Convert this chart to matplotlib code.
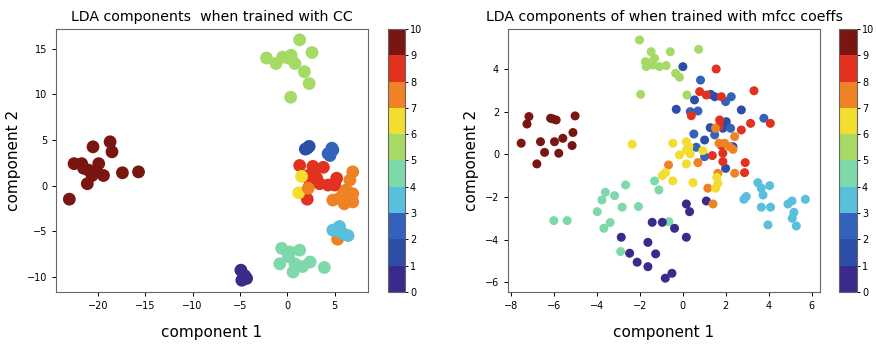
import numpy as np
import matplotlib
matplotlib.use("Agg")
import matplotlib.pyplot as plt
from matplotlib.colors import ListedColormap, BoundaryNorm

# class colours (0 .. 9)
class_colors = ['#3a2a8c', '#2d4ea8', '#3262bb', '#58bfdc', '#7dd9a9',
                '#a6da66', '#f2de2e', '#ef8224', '#e2321f', '#7a1612']

# ---- left panel: LDA on CC features ----
cc_x = {
    9: [-23.0, -20.5, -18.7, -18.5, -22.5, -21.7, -21.5, -21.0, -21.1, -19.9, -20.1, -19.4, -17.4, -15.7, -20.6],
    5: [1.3, 2.6, -2.2, -1.2, -0.5, 0.4, 0.8, 1.8, 2.3, 0.35, 0.1],
    1: [1.9, 2.3, 2.1],
    2: [4.3, 4.7, 4.5, 4.8],
    8: [1.3, 2.7, 3.8, 2.2, 3.1, 2.4, 3.4, 5.2, 5.0, 4.3, 2.1, 2.9],
    6: [1.2, 1.5],
    7: [6.9, 6.6, 6.2, 6.9, 4.8, 5.5, 6.0, 6.9, 5.9, 2.2, 5.3, 6.4],
    3: [5.5, 4.8, 6.4, 5.9, 5.2],
    4: [-0.6, 0.25, 1.3, -0.8, 0.8, 2.4, 0.6, 1.6, 3.9, 0.1],
    0: [-4.9, -4.5, -4.8, -4.3],
}
cc_y = {
    9: [-1.5, 4.25, 4.8, 3.7, 2.4, 2.4, 1.9, 1.7, 0.2, 2.4, 1.5, 1.1, 1.4, 1.5, 1.1],
    5: [16.0, 14.6, 14.0, 13.4, 14.1, 14.3, 13.4, 12.5, 11.2, 9.7, 14.0],
    1: [4.0, 4.3, 4.1],
    2: [3.5, 4.1, 3.3, 3.9],
    8: [2.2, 2.1, 2.0, 1.1, 0.8, 0.4, 0.2, 0.8, 0.05, 0.05, -1.5, 1.7],
    6: [-0.8, 1.0],
    7: [1.5, 0.6, -0.5, -0.9, -1.6, -1.4, -2.0, -1.8, -0.9, -0.3, -5.9, -1.2],
    3: [-4.5, -4.9, -5.5, -5.3, -4.9],
    4: [-6.9, -7.3, -7.1, -8.6, -8.6, -8.4, -9.5, -8.9, -9.0, -7.8],
    0: [-9.3, -9.9, -10.4, -10.2],
}

# ---- right panel: LDA on mfcc coeffs ----
mf_x = {
    9: [-7.53, -7.17, -7.26, -6.63, -6.80, -6.44, -6.16, -5.90, -5.98, -5.78, -5.59, -5.12, -5.16, -5.02, -6.06],
    5: [-2.02, -1.75, -1.71, -1.48, -1.32, -1.40, -1.09, -0.78, -0.59, -0.34, -0.16, 0.73, 0.19, -1.97, -1.63],
    4: [-6.01, -5.39, -3.99, -3.77, -3.61, -3.18, -3.39, -3.68, -2.83, -2.67, -2.07, -1.32, -1.12, -2.90, -0.65],
    0: [-2.87, -2.48, -2.13, -1.63, -1.63, -1.27, -1.43, -0.96, -0.39, -0.82, -0.51, 0.16, 0.16, 0.31, 1.09],
    1: [0.0, -0.31, 0.54, 1.29, 1.48, 2.72, 2.02, 1.86, 1.01, 1.99, 1.27, 2.33],
    2: [0.82, 0.34, 0.70, 1.99, 2.25, 1.48, 2.22, 0.51, 0.62, 3.77, 1.01],
    8: [1.55, 0.78, 1.79, 1.09, 3.31, 0.39, 1.71, 3.15, 4.07, 2.72, 1.79, 1.37, 1.86, 1.86, 2.90, 2.87, 1.68],
    7: [-0.67, 0.70, 1.52, 1.68, 1.94, 2.17, 2.41, 2.33, 2.41, 1.63, 1.16, 1.40],
    6: [-2.36, -0.47, 0.16, -0.16, 0.16, 0.28, 0.34, 0.16, -0.47, -0.81, -0.96, 0.47, 0.93, 1.52, 1.63, 1.58],
    3: [3.49, 3.65, 4.04, 3.73, 2.84, 2.95, 3.65, 4.08, 3.96, 4.89, 5.08, 5.17, 5.09, 5.28, 5.70],
}
mf_y = {
    9: [0.52, 1.77, 1.42, 0.59, -0.45, 0.09, 1.69, 1.61, 0.59, 0.05, 0.75, 1.02, 0.41, 1.80, 1.66],
    5: [5.36, 4.34, 4.11, 4.81, 4.50, 4.19, 4.11, 4.16, 4.81, 3.80, 3.61, 4.92, 2.78, 2.81, 4.30],
    4: [-3.11, -3.11, -2.69, -2.14, -1.78, -1.94, -3.20, -3.47, -2.48, -1.44, -2.45, -1.25, -1.67, -4.56, -3.16],
    0: [-3.89, -4.64, -5.06, -5.27, -4.13, -4.67, -3.19, -3.19, -3.47, -5.81, -5.58, -3.89, -2.33, -2.69, -2.19],
    1: [4.11, 2.11, 2.55, 2.81, 2.70, 2.08, 1.53, 1.22, 0.67, -0.66, 1.25, 0.36],
    2: [3.48, 2.00, 2.03, 2.47, 2.70, 0.91, 1.22, 0.95, 0.33, 1.69, -0.11],
    8: [4.00, 2.94, 2.70, 2.78, 2.98, 1.81, 1.61, 1.45, 1.45, 1.14, 0.41, -0.06, 0.05, -0.34, -0.39, -0.86, 1.30],
    7: [-0.50, -0.39, 1.22, 0.52, 0.52, 0.36, 0.83, 0.23, -0.89, -0.89, -1.59, -2.33],
    6: [0.47, 0.52, 0.59, -0.03, 0.20, 0.36, 0.02, -0.45, -1.25, -0.86, -1.00, -1.33, 0.17, -1.59, -1.36, -1.08],
    3: [-1.33, -1.59, -1.47, -1.91, -2.11, -1.98, -2.48, -2.48, -3.31, -2.33, -2.19, -2.72, -3.00, -3.36, -2.11],
}

cmap = ListedColormap(class_colors)
norm = BoundaryNorm(np.arange(11), cmap.N)


def flatten(xd, yd):
    xs, ys, cs = [], [], []
    for k in xd:
        xs += xd[k]
        ys += yd[k]
        cs += [k + 0.5] * len(xd[k])
    return np.array(xs), np.array(ys), np.array(cs)


fig = plt.figure(figsize=(8.76, 3.44), dpi=100)

ax1 = fig.add_axes([0.064, 0.151, 0.356, 0.765])
cax1 = fig.add_axes([0.443, 0.151, 0.0195, 0.765])
ax2 = fig.add_axes([0.580, 0.151, 0.356, 0.765])
cax2 = fig.add_axes([0.958, 0.151, 0.0205, 0.765])

x, y, c = flatten(cc_x, cc_y)
sc1 = ax1.scatter(x, y, c=c, cmap=cmap, norm=norm, s=85, linewidths=0)
ax1.set_xlim(-24.4, 8.5)
ax1.set_ylim(-11.7, 17.2)
ax1.set_xticks([-20, -15, -10, -5, 0, 5])
ax1.set_yticks([-10, -5, 0, 5, 10, 15])
ax1.set_title('LDA components  when trained with CC', fontsize=10.2, pad=6)

x, y, c = flatten(mf_x, mf_y)
sc2 = ax2.scatter(x, y, c=c, cmap=cmap, norm=norm, s=42, linewidths=0)
ax2.set_xlim(-8.14, 6.38)
ax2.set_ylim(-6.46, 5.88)
ax2.set_xticks([-8, -6, -4, -2, 0, 2, 4, 6])
ax2.set_yticks([-6, -4, -2, 0, 2, 4])
ax2.set_title('LDA components of when trained with mfcc coeffs', fontsize=10.2, pad=6)

for ax in (ax1, ax2):
    ax.set_xlabel('component 1', fontsize=11, labelpad=10)
    ax.set_ylabel('component 2', fontsize=11)
    ax.tick_params(labelsize=7, length=3, width=0.7)
    for sp in ax.spines.values():
        sp.set_color('#666666')

for sc, cax in ((sc1, cax1), (sc2, cax2)):
    cb = fig.colorbar(sc, cax=cax, ticks=np.arange(11))
    cb.ax.tick_params(labelsize=7, length=2, width=0.7, pad=1.5)
    cb.outline.set_edgecolor('#666666')

fig.savefig('out.png', dpi=100)
